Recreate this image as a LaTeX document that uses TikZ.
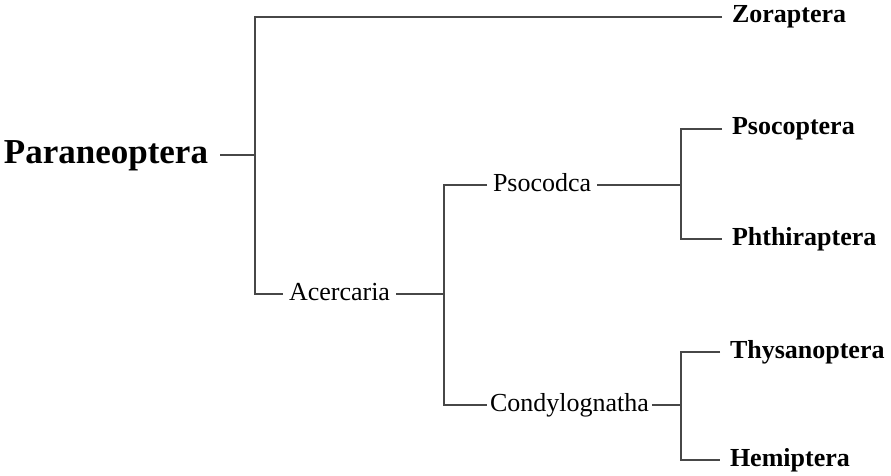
\documentclass[tikz,border=0pt]{standalone}
\usepackage{fontspec}
\setmainfont{Liberation Serif}
\begin{document}
\begin{tikzpicture}[x=1pt,y=-1pt,
  % text height with zero depth puts west/east anchors at the x-height middle
  leaf/.style={font=\bfseries\fontsize{26}{28}\selectfont, inner sep=0pt,
    text height=12pt, text depth=0pt, outer xsep=10pt, anchor=west},
  clade/.style={font=\fontsize{26}{28}\selectfont, inner sep=0pt,
    text height=12pt, text depth=0pt, outer xsep=5pt, anchor=west},
  rootlabel/.style={font=\bfseries\fontsize{35}{38}\selectfont, inner sep=0pt,
    text height=16pt, text depth=0pt, outer xsep=12pt, anchor=east},
  branch/.style={line width=1.2pt, draw=black!72}]
\fill[white] (0,0) rectangle (891,476);
\useasboundingbox (0,0) rectangle (891,476);

% terminal taxa
\node[leaf] (zor)  at (722,17)  {Zoraptera};
\node[leaf] (pso)  at (722,129) {Psocoptera};
\node[leaf] (phth) at (722,239) {Phthiraptera};
\node[leaf] (thy)  at (720,352) {Thysanoptera};
\node[leaf] (hem)  at (720,460) {Hemiptera};

% inner clades
\node[rootlabel] (par) at (220,155) {Paraneoptera};
\node[clade, outer xsep=6pt] (ace) at (283,294) {Acercaria};
\node[clade, outer xsep=6pt] (psd) at (487,185) {Psocodca};
\node[clade, outer xsep=3pt] (con) at (487,405) {Condylognatha};

% branching points
\coordinate (n0) at (255,155);
\coordinate (n1) at (444,294);
\coordinate (n2) at (681,185);
\coordinate (n3) at (681,405);

% branches
\draw[branch] (par.east) -- (n0);
\draw[branch] (zor.west) -| (n0) |- (ace.west);
\draw[branch] (ace.east) -- (n1);
\draw[branch] (psd.west) -| (n1) |- (con.west);
\draw[branch] (psd.east) -- (n2);
\draw[branch] (pso.west) -| (n2) |- (phth.west);
\draw[branch] (con.east) -- (n3);
\draw[branch] (thy.west) -| (n3) |- (hem.west);
\end{tikzpicture}
\end{document}
